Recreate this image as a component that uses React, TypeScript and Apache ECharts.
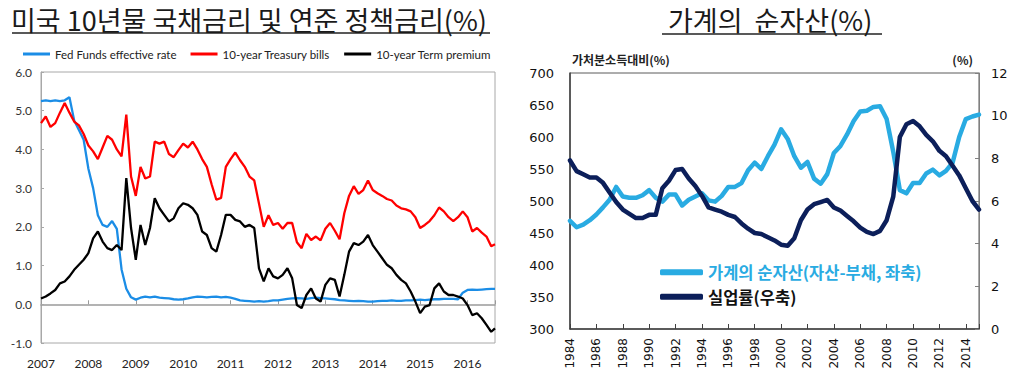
import React, { useEffect, useRef } from "react";
import * as echarts from "echarts";

// ---------- Left chart: US 10y yield / Fed funds / term premium ----------
// sample dates (decimal years, every 0.1 year, last point = mid-2016)
const rateYears: number[] = Array.from({ length: 96 }, (_, i) => 2007 + i / 10).concat([2016.58]);

const fedFunds = [
  5.25, 5.27, 5.25, 5.27, 5.25, 5.27, 5.35, 4.75, 4.5, 4.25,
  3.5, 3.0, 2.3, 2.05, 2.0, 2.15, 1.95, 0.9, 0.4, 0.18,
  0.12, 0.17, 0.2, 0.18, 0.2, 0.17, 0.16, 0.15, 0.13, 0.12,
  0.13, 0.15, 0.18, 0.2, 0.19, 0.18, 0.19, 0.2, 0.18, 0.19,
  0.17, 0.14, 0.1, 0.09, 0.08, 0.07, 0.08, 0.07, 0.08, 0.1,
  0.1, 0.12, 0.14, 0.15, 0.16, 0.15, 0.14, 0.16, 0.17, 0.16,
  0.15, 0.14, 0.13, 0.11, 0.1, 0.09, 0.08, 0.09, 0.08, 0.07,
  0.07, 0.08, 0.09, 0.09, 0.1, 0.09, 0.09, 0.1, 0.1, 0.11,
  0.12, 0.11, 0.12, 0.13, 0.13, 0.14, 0.14, 0.14, 0.13, 0.3,
  0.37, 0.38, 0.37, 0.38, 0.39, 0.4, 0.4,
];

const treasury10y = [
  4.68, 4.85, 4.58, 4.68, 4.95, 5.2, 4.95, 4.72, 4.62, 4.4,
  4.1, 3.95, 3.75, 4.05, 4.35, 4.25, 4.0, 3.82, 4.9, 3.3,
  2.8, 3.55, 3.25, 3.3, 4.2, 4.15, 4.2, 3.88, 3.8, 3.98,
  4.15, 4.05, 4.2, 4.0, 3.75, 3.55, 3.1, 2.7, 2.75, 3.55,
  3.75, 3.92, 3.72, 3.55, 3.3, 3.2, 2.6, 2.0, 2.3, 2.05,
  2.1, 1.95, 2.1, 2.1, 1.6, 1.45, 1.82, 1.66, 1.75, 1.65,
  1.95, 2.1, 1.9, 1.68, 2.35, 2.8, 3.05, 2.85, 2.95, 3.2,
  2.95, 2.87, 2.8, 2.72, 2.68, 2.55, 2.48, 2.45, 2.4, 2.25,
  1.97, 2.05, 2.15, 2.3, 2.5, 2.4, 2.25, 2.15, 2.25, 2.4,
  2.25, 1.88, 1.97, 1.85, 1.75, 1.5, 1.55,
];

const termPremium = [
  0.15, 0.2, 0.28, 0.37, 0.54, 0.59, 0.72, 0.89, 1.02, 1.15,
  1.32, 1.7, 1.88, 1.62, 1.45, 1.4, 1.53, 1.4, 3.26, 1.97,
  1.15, 2.05, 1.53, 1.97, 2.74, 2.48, 2.31, 2.14, 2.22, 2.48,
  2.61, 2.57, 2.48, 2.31, 1.88, 1.79, 1.45, 1.36, 1.79, 2.31,
  2.31, 2.18, 2.14, 2.0, 2.05, 1.97, 0.93, 0.59, 0.93, 0.72,
  0.67, 0.76, 0.93, 0.67, -0.02, -0.1, 0.24, 0.41, 0.15, 0.07,
  0.5, 0.67, 0.63, 0.2, 0.76, 1.36, 1.58, 1.53, 1.62, 1.79,
  1.53, 1.36, 1.19, 1.02, 0.93, 0.76, 0.63, 0.54, 0.33, 0.07,
  -0.23, -0.06, -0.02, 0.41, 0.54, 0.33, 0.24, 0.24, 0.2, 0.15,
  -0.02, -0.28, -0.23, -0.36, -0.53, -0.71, -0.62,
];

const rateSeriesNames = ["Fed Funds effective rate", "10-year Treasury bills", "10-year Term premium"];
const rateAxis = { min: -1, max: 6, step: 1 };
const rateYearAxis = { min: 2007, max: 2016.58, step: 1 };

// ---------- Right chart: household net worth & unemployment ----------
const hhYears: number[] = Array.from({ length: 63 }, (_, i) => 1984 + i / 2);

const netWorth = [
  469, 459, 463, 470, 479, 490, 502, 522, 507, 505,
  505, 509, 517, 505, 499, 510, 510, 493, 502, 507,
  512, 501, 499, 508, 522, 522, 528, 548, 560, 550,
  570, 588, 612, 597, 570, 552, 561, 535, 527, 542,
  575, 586, 604, 625, 640, 641, 647, 648, 628, 577,
  517, 512, 528, 528, 543, 549, 540, 547, 560, 600,
  628, 632, 635,
];

const unemployment = [
  7.9, 7.4, 7.25, 7.1, 7.1, 6.85, 6.4, 5.95, 5.6, 5.4,
  5.2, 5.2, 5.35, 5.35, 6.6, 6.95, 7.45, 7.5, 7.05, 6.7,
  6.25, 5.7, 5.6, 5.5, 5.35, 5.25, 4.95, 4.7, 4.5, 4.45,
  4.3, 4.15, 3.95, 3.9, 4.25, 5.1, 5.6, 5.85, 5.95, 6.05,
  5.7, 5.55, 5.3, 5.05, 4.75, 4.55, 4.45, 4.6, 5.1, 6.2,
  9.0, 9.6, 9.75, 9.5, 9.1, 8.8, 8.35, 8.1, 7.65, 7.2,
  6.6, 6.0, 5.6,
];

const hhSeriesNames = ["가계의 순자산(자산-부채, 좌축)", "실업률(우축)"];
const netWorthAxis = { min: 300, max: 700, step: 50 };
const unempAxis = { min: 0, max: 12, step: 2 };
const hhYearAxis = { min: 1984, max: 2015, step: 2 };

const titles = ["미국 10년물 국채금리 및 연준 정책금리(%)", "가계의  순자산(%)"];
const leftAxisName = "가처분소득대비(%)";
const rightAxisName = "(%)";

const CJK = "'Noto Sans CJK KR', 'Noto Sans CJK SC', sans-serif";
const LATIN = "Lato, 'Open Sans', sans-serif";
const VERD = "'DejaVu Sans', Verdana, sans-serif";

const pair = (xs: number[], ys: number[]) => xs.map((x, i) => [x, ys[i]]);

const COLORS = {
  fed: "#1b8de6",
  tsy: "#ff0000",
  tp: "#000000",
  nw: "#29abe2",
  un: "#0c1f5a",
};

function buildOption(): any {
  return {
    animation: false,
    backgroundColor: "#ffffff",
    title: [
      {
        text: titles[0],
        left: 11,
        top: 6,
        padding: 0,
        textStyle: { fontFamily: CJK, fontSize: 27, fontWeight: "normal", color: "#1a1a1a" },
      },
      {
        text: titles[1],
        left: 668,
        top: 6,
        padding: 0,
        textStyle: { fontFamily: CJK, fontSize: 27, fontWeight: "normal", color: "#1a1a1a" },
      },
    ],
    graphic: [
      { type: "line", silent: true, shape: { x1: 12, y1: 33, x2: 490, y2: 33 }, style: { stroke: "#222", lineWidth: 1.5 } },
      { type: "line", silent: true, shape: { x1: 662, y1: 34, x2: 882, y2: 34 }, style: { stroke: "#222", lineWidth: 1.5 } },
    ],
    legend: [
      {
        data: rateSeriesNames,
        left: 23,
        top: 48,
        padding: 0,
        icon: "rect",
        itemWidth: 27,
        itemHeight: 3,
        itemGap: 14,
        textStyle: { fontFamily: LATIN, fontSize: 11.5, color: "#222" },
      },
      {
        data: [
          { name: hhSeriesNames[0], textStyle: { color: COLORS.nw } },
          { name: hhSeriesNames[1], textStyle: { color: "#111" } },
        ],
        orient: "vertical",
        left: 660,
        top: 264,
        padding: 0,
        icon: "roundRect",
        itemWidth: 43,
        itemHeight: 6,
        itemGap: 8,
        textStyle: { fontFamily: CJK, fontSize: 16.5, fontWeight: "bold" },
      },
    ],
    grid: [
      { left: 41, top: 72, width: 454, height: 271, show: true, borderColor: "#a8a8a8", borderWidth: 1, backgroundColor: "transparent" },
      { left: 570, top: 73, width: 409, height: 256, show: true, borderColor: "#5a5a5a", borderWidth: 1, backgroundColor: "transparent" },
    ],
    xAxis: [
      {
        type: "value",
        gridIndex: 0,
        position: "bottom",
        min: rateYearAxis.min,
        max: rateYearAxis.max,
        interval: rateYearAxis.step,
        axisLine: { show: false, onZero: false },
        axisTick: { show: false },
        splitLine: { show: false },
        axisLabel: {
          margin: 14,
          fontFamily: LATIN,
          fontSize: 12,
          color: "#222",
          formatter: (v: number) => (Number.isInteger(v) ? String(v) : ""),
        },
      },
      {
        type: "value",
        gridIndex: 0,
        position: "top",
        min: rateYearAxis.min,
        max: rateYearAxis.max,
        interval: rateYearAxis.step,
        axisLine: { show: true, onZero: true, lineStyle: { color: "#9a9a9a", width: 1.5 } },
        axisTick: { show: true, inside: false, length: 4, lineStyle: { color: "#9a9a9a" } },
        splitLine: { show: false },
        axisLabel: { show: false },
      },
      {
        type: "value",
        gridIndex: 1,
        min: hhYearAxis.min,
        max: hhYearAxis.max,
        interval: hhYearAxis.step,
        axisLine: { show: true, onZero: false, lineStyle: { color: "#404040", width: 1.5 } },
        axisTick: { show: true, inside: true, length: 5, lineStyle: { color: "#404040" } },
        splitLine: { show: false },
        axisLabel: {
          rotate: 90,
          margin: 9,
          fontFamily: VERD,
          fontSize: 12,
          color: "#111",
          formatter: (v: number) => (Number.isInteger(v) && v % 2 === 0 ? String(v) : ""),
        },
      },
    ],
    yAxis: [
      {
        type: "value",
        gridIndex: 0,
        min: rateAxis.min,
        max: rateAxis.max,
        interval: rateAxis.step,
        axisLine: { show: true, lineStyle: { color: "#a8a8a8" } },
        axisTick: { show: true, inside: true, length: 3, lineStyle: { color: "#a8a8a8" } },
        splitLine: { show: false },
        axisLabel: {
          margin: 9,
          fontFamily: LATIN,
          fontSize: 12,
          color: "#333",
          formatter: (v: number) => v.toFixed(1),
        },
      },
      {
        type: "value",
        gridIndex: 1,
        position: "left",
        min: netWorthAxis.min,
        max: netWorthAxis.max,
        interval: netWorthAxis.step,
        name: leftAxisName,
        nameLocation: "end",
        nameGap: 8,
        nameTextStyle: { align: "left", fontFamily: CJK, fontSize: 12, fontWeight: "bold", color: "#222", padding: [0, 0, 0, 2] },
        axisLine: { show: true, lineStyle: { color: "#404040", width: 1.5 } },
        axisTick: { show: false },
        splitLine: { show: false },
        axisLabel: { margin: 16, fontFamily: VERD, fontSize: 13, color: "#111" },
      },
      {
        type: "value",
        gridIndex: 1,
        position: "right",
        min: unempAxis.min,
        max: unempAxis.max,
        interval: unempAxis.step,
        name: rightAxisName,
        nameLocation: "end",
        nameGap: 8,
        nameTextStyle: { align: "right", fontFamily: CJK, fontSize: 12, fontWeight: "bold", color: "#222", padding: [0, 6, 0, 0] },
        axisLine: { show: true, lineStyle: { color: "#808080", width: 1 } },
        axisTick: { show: true, inside: true, length: 4, lineStyle: { color: "#808080" } },
        splitLine: { show: false },
        axisLabel: { margin: 12, fontFamily: VERD, fontSize: 13, color: "#111" },
      },
    ],
    series: [
      {
        name: rateSeriesNames[0],
        type: "line",
        xAxisIndex: 0,
        yAxisIndex: 0,
        data: pair(rateYears, fedFunds),
        symbol: "none",
        showSymbol: false,
        color: COLORS.fed,
        lineStyle: { color: COLORS.fed, width: 2.3 },
        z: 2,
      },
      {
        name: rateSeriesNames[1],
        type: "line",
        xAxisIndex: 0,
        yAxisIndex: 0,
        data: pair(rateYears, treasury10y),
        symbol: "none",
        showSymbol: false,
        color: COLORS.tsy,
        lineStyle: { color: COLORS.tsy, width: 2.3 },
        z: 3,
      },
      {
        name: rateSeriesNames[2],
        type: "line",
        xAxisIndex: 0,
        yAxisIndex: 0,
        data: pair(rateYears, termPremium),
        symbol: "none",
        showSymbol: false,
        color: COLORS.tp,
        lineStyle: { color: COLORS.tp, width: 2.3 },
        z: 4,
      },
      {
        name: hhSeriesNames[0],
        type: "line",
        xAxisIndex: 2,
        yAxisIndex: 1,
        data: pair(hhYears, netWorth),
        symbol: "none",
        showSymbol: false,
        color: COLORS.nw,
        lineStyle: { color: COLORS.nw, width: 4.5, cap: "round", join: "round" },
        z: 3,
      },
      {
        name: hhSeriesNames[1],
        type: "line",
        xAxisIndex: 2,
        yAxisIndex: 2,
        data: pair(hhYears, unemployment),
        symbol: "none",
        showSymbol: false,
        color: COLORS.un,
        lineStyle: { color: COLORS.un, width: 4.5, cap: "round", join: "round" },
        z: 4,
      },
    ],
  };
}

export default function App() {
  const ref = useRef<HTMLDivElement>(null);
  useEffect(() => {
    if (!ref.current) return;
    const chart = echarts.init(ref.current, null, { renderer: "svg" });
    chart.setOption(buildOption());
    return () => {
      chart.dispose();
    };
  }, []);
  return (
    <div
      ref={ref}
      style={{ position: "absolute", left: 0, top: 0, width: 1024, height: 375, background: "#fff" }}
    />
  );
}
